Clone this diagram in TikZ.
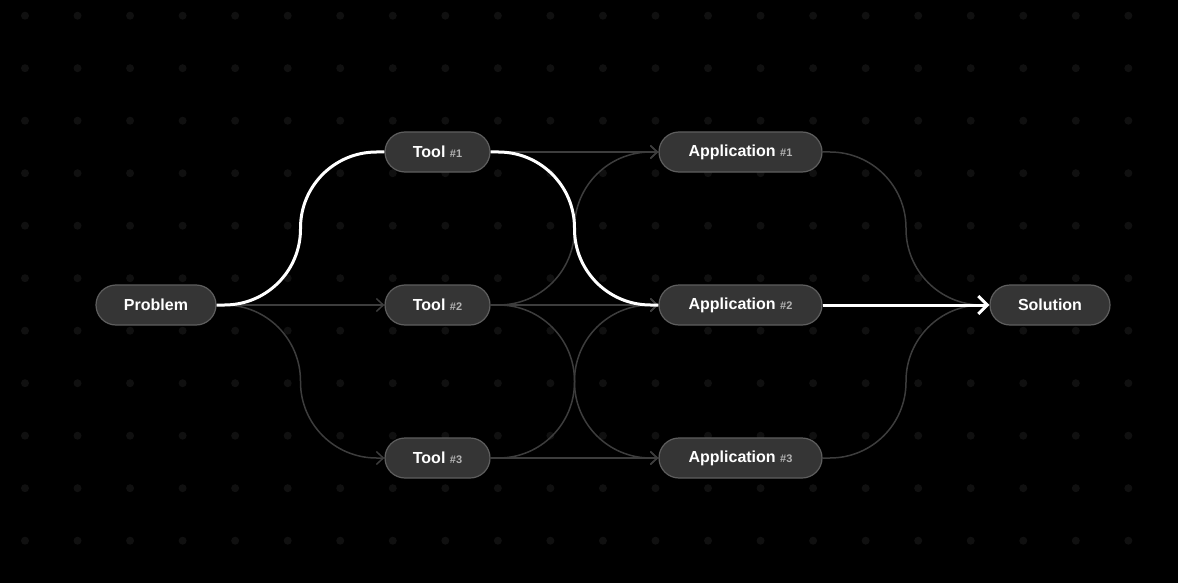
\documentclass[tikz,border=0pt]{standalone}
\usepackage{fontspec}
\setmainfont{Liberation Sans}
\usetikzlibrary{arrows.meta,calc}
\definecolor{pillfill}{HTML}{353535}
\definecolor{pillline}{HTML}{5E5E5E}
\definecolor{linkgray}{HTML}{3D3D3D}
\definecolor{dotgray}{HTML}{101010}
\definecolor{numgray}{HTML}{B4B4B4}
\tikzset{main base/.style={draw=pillline,line width=1.2pt,text=white,text centered, }, }
\tikzset{main node/.style={rectangle,fill=pillfill,rounded corners=20pt,main base,
    minimum height=40pt,inner sep=0pt,font=\fontsize{16}{18}\selectfont\bfseries}, }
\tikzset{linea/.style={-{Straight Barb[length=7pt,width=13pt]},line width=1.5pt,draw=linkgray}}
\tikzset{linea2/.style={-{Straight Barb[length=9pt,width=18pt]},line width=3pt,draw=white}}
\tikzset{curva/.style={rounded corners=76pt}}
\newcommand{\toolnum}[1]{{\fontsize{11}{12}\selectfont\color{numgray}\##1}}

\begin{document}
\begin{tikzpicture}[x=1pt,y=-1pt]
  \fill[black] (0,0) rectangle (1178,583);
  \useasboundingbox (0,0) rectangle (1178,583);
  % dot grid
  \foreach \i in {0,...,21}
    \foreach \j in {0,...,10}
      \fill[dotgray] (25+52.54*\i,15.7+52.5*\j) circle (4pt);
  %
    \node[main node,minimum width=120pt] (1) at (156,305) {Problem};
    \node[main node,minimum width=105pt] (2) at (437.5,152) {Tool \toolnum{1}};
    \node[main node,minimum width=105pt] (3) at (437.5,305) {Tool \toolnum{2}};
    \node[main node,minimum width=105pt] (4) at (437.5,458) {Tool \toolnum{3}};
    \node[main node,minimum width=163pt] (5) at (740.5,152) {Application \toolnum{1}};
    \node[main node,minimum width=163pt] (6) at (740.5,305) {Application \toolnum{2}};
    \node[main node,minimum width=163pt] (7) at (740.5,458) {Application \toolnum{3}};
    \node[main node,minimum width=120pt] (8) at (1050,305) {Solution};
\foreach \x/\y in {1/3,2/5,3/6,4/7,6/8}
  \draw[linea] (\x.east) -- (\y.west);
\foreach \x/\y in {1/4,2/6,3/5,3/7,4/6,5/8,7/8}{
  \coordinate (m) at ($(\x.east)!0.5!(\y.west)$);
  \draw[linea,curva] (\x.east) -- (m |- \x.east) -- (m |- \y.west) -- (\y.west);
}
% highlighted route
\foreach \x/\y in {1/2,2/6}{
  \coordinate (m) at ($(\x.east)!0.5!(\y.west)$);
  \draw[line width=3pt,white,curva] (\x.east) -- (m |- \x.east) -- (m |- \y.west) -- (\y.west);
}
\draw[linea2] (6.east) -- (8.west);
%
\end{tikzpicture}
\end{document}
